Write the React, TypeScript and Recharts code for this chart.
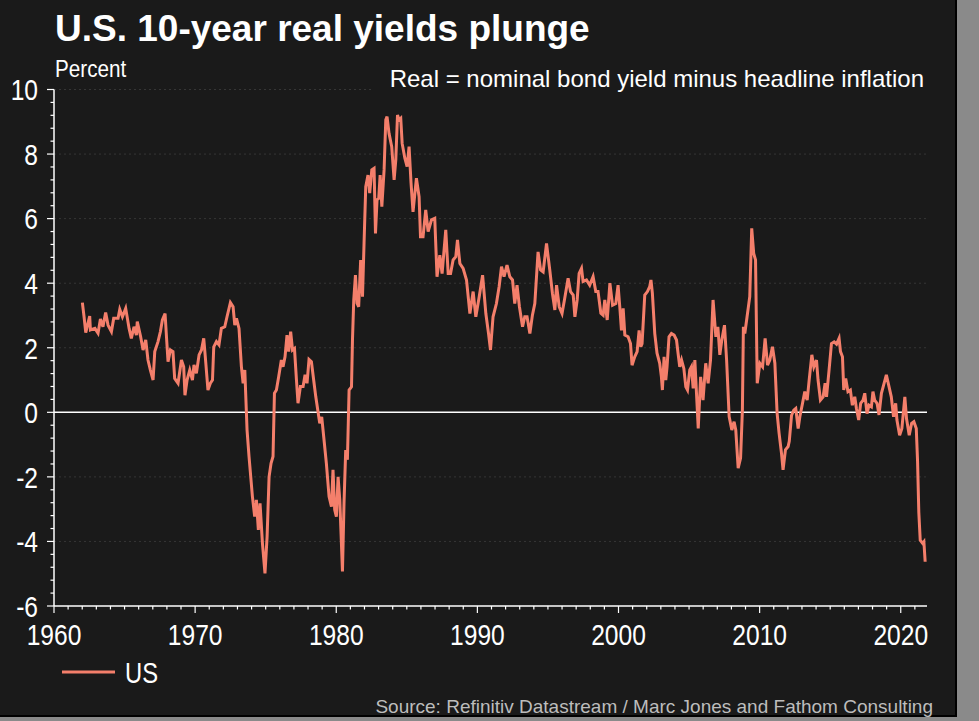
import React from 'react';
import { LineChart, Line, XAxis, YAxis, ReferenceLine } from 'recharts';

const us1960s: [number, number][] = [
  [1962.01, 3.4], [1962.13, 2.96], [1962.25, 2.47], [1962.53, 2.98], [1962.58, 2.55], [1962.9, 2.6],
  [1963.12, 2.45], [1963.29, 2.89], [1963.47, 2.65], [1963.66, 3.09], [1963.83, 2.7], [1964.07, 2.5],
  [1964.23, 2.91], [1964.54, 2.91], [1964.66, 3.19], [1964.85, 2.96], [1965.08, 3.22], [1965.32, 2.6],
  [1965.48, 2.29], [1965.67, 2.65], [1965.84, 2.39], [1965.9, 2.81], [1966.14, 2.34], [1966.31, 1.93],
  [1966.5, 2.24], [1966.66, 1.62], [1966.83, 1.31], [1967.02, 1.0], [1967.14, 1.88], [1967.37, 2.19],
  [1967.54, 2.5], [1967.68, 2.86], [1967.87, 3.06], [1967.97, 2.34], [1968.08, 1.57], [1968.25, 1.93],
  [1968.43, 1.88], [1968.55, 1.05], [1968.79, 0.9], [1969.03, 1.62], [1969.19, 1.41], [1969.28, 0.53],
  [1969.43, 1.0], [1969.62, 1.31], [1969.81, 1.0], [1969.92, 1.47],
];

const us1970s: [number, number][] = [
  [1970.09, 1.21], [1970.28, 1.78], [1970.45, 1.93], [1970.61, 2.29], [1970.73, 1.67], [1970.91, 0.69],
  [1971.08, 0.9], [1971.23, 1.0], [1971.32, 2.03], [1971.51, 2.19], [1971.69, 2.09], [1971.86, 2.6],
  [1972.1, 2.65], [1972.26, 2.96], [1972.5, 3.4], [1972.69, 3.27], [1972.81, 2.7], [1972.93, 2.91],
  [1973.11, 2.6], [1973.28, 1.41], [1973.4, 0.9], [1973.52, 1.31], [1973.68, -0.55], [1973.82, -1.37],
  [1974.06, -2.61], [1974.22, -3.23], [1974.34, -2.71], [1974.48, -3.64], [1974.6, -2.82], [1974.77, -4.06],
  [1974.95, -4.99], [1975.1, -3.85], [1975.24, -2.0], [1975.38, -1.58], [1975.52, -1.37], [1975.62, 0.59],
  [1975.76, 0.69], [1975.92, 1.1], [1976.11, 1.62], [1976.23, 1.41], [1976.37, 1.72], [1976.51, 2.39],
  [1976.63, 1.88], [1976.77, 2.5], [1976.9, 1.93], [1977.04, 1.98], [1977.18, 1.0], [1977.29, 0.28],
  [1977.46, 0.8], [1977.65, 0.8], [1977.79, 1.16], [1977.93, 0.9], [1978.07, 1.64], [1978.24, 1.57],
  [1978.4, 1.0], [1978.55, 0.48], [1978.69, 0.07], [1978.83, -0.34], [1978.97, -0.14], [1979.11, -0.75],
  [1979.3, -1.58], [1979.49, -2.61], [1979.66, -2.92], [1979.77, -1.78], [1979.89, -3.02],
];

const us1980s: [number, number][] = [
  [1980.01, -3.23], [1980.13, -2.0], [1980.25, -2.71], [1980.44, -4.93], [1980.55, -2.82], [1980.67, -1.17],
  [1980.79, -1.47], [1980.91, 0.69], [1981.08, 0.79], [1981.15, 2.24], [1981.24, 3.48], [1981.36, 4.25],
  [1981.47, 3.38], [1981.59, 3.27], [1981.73, 4.72], [1981.86, 3.58], [1981.97, 5.24], [1982.09, 6.99],
  [1982.25, 7.35], [1982.37, 6.79], [1982.52, 7.51], [1982.68, 7.56], [1982.78, 5.54], [1982.89, 6.58],
  [1983.01, 6.63], [1983.11, 7.35], [1983.23, 6.37], [1983.39, 7.51], [1983.51, 9.06], [1983.6, 9.16],
  [1983.74, 8.64], [1983.93, 8.23], [1984.1, 7.2], [1984.22, 7.82], [1984.34, 9.21], [1984.45, 9.06],
  [1984.57, 9.11], [1984.67, 8.33], [1984.86, 7.87], [1985.02, 7.61], [1985.16, 8.23], [1985.3, 7.1],
  [1985.44, 6.21], [1985.68, 7.25], [1985.87, 6.68], [1985.97, 5.44], [1986.15, 5.44], [1986.34, 6.27],
  [1986.51, 5.6], [1986.75, 5.96], [1986.98, 6.01], [1987.14, 4.2], [1987.34, 4.87], [1987.5, 4.3],
  [1987.76, 5.65], [1987.93, 4.3], [1988.1, 4.3], [1988.28, 4.72], [1988.47, 4.82], [1988.59, 5.34],
  [1988.76, 4.61], [1988.99, 4.46], [1989.23, 4.1], [1989.47, 3.06], [1989.7, 3.74], [1989.89, 2.96],
];

const us1990s: [number, number][] = [
  [1990.13, 3.58], [1990.37, 4.25], [1990.6, 3.06], [1990.79, 2.44], [1990.93, 1.93], [1991.11, 2.96],
  [1991.35, 3.37], [1991.54, 3.89], [1991.71, 4.51], [1991.89, 4.2], [1992.1, 4.56], [1992.3, 4.2],
  [1992.49, 4.1], [1992.65, 3.37], [1992.81, 3.94], [1992.98, 3.27], [1993.2, 2.65], [1993.36, 2.96],
  [1993.52, 2.96], [1993.72, 2.44], [1993.9, 3.01], [1994.07, 3.37], [1994.3, 4.97], [1994.48, 4.41],
  [1994.66, 4.35], [1994.9, 5.23], [1995.13, 4.41], [1995.32, 3.68], [1995.49, 3.17], [1995.61, 3.94],
  [1995.8, 3.27], [1996.0, 3.06], [1996.19, 3.53], [1996.43, 4.15], [1996.6, 3.74], [1996.79, 3.63],
  [1996.91, 2.96], [1997.07, 3.48], [1997.21, 4.3], [1997.38, 4.46], [1997.49, 4.05], [1997.73, 4.1],
  [1997.96, 3.94], [1998.2, 4.2], [1998.39, 3.74], [1998.55, 3.74], [1998.75, 3.07], [1998.91, 3.01],
  [1999.03, 3.48], [1999.2, 2.86], [1999.39, 4.0], [1999.58, 3.32], [1999.81, 3.37], [1999.97, 3.94],
];

const us2000s: [number, number][] = [
  [2000.09, 3.27], [2000.21, 2.54], [2000.33, 3.22], [2000.45, 2.39], [2000.68, 2.34], [2000.85, 2.13],
  [2000.96, 1.46], [2001.15, 1.72], [2001.32, 1.88], [2001.46, 2.54], [2001.58, 2.03], [2001.67, 2.13],
  [2001.86, 3.63], [2002.05, 3.74], [2002.21, 3.89], [2002.3, 4.1], [2002.4, 3.69], [2002.57, 2.44],
  [2002.73, 1.83], [2002.92, 1.52], [2003.04, 1.1], [2003.11, 0.69], [2003.23, 1.72], [2003.35, 1.0],
  [2003.44, 1.41], [2003.58, 2.34], [2003.75, 2.44], [2003.94, 2.39], [2004.11, 2.24], [2004.22, 1.83],
  [2004.34, 1.41], [2004.47, 1.62], [2004.63, 1.36], [2004.77, 0.79], [2004.89, 0.69], [2005.05, 1.31],
  [2005.17, 1.41], [2005.29, 0.74], [2005.41, 1.62], [2005.65, -0.5], [2005.82, 1.1], [2005.99, 0.38],
  [2006.18, 1.52], [2006.35, 0.9], [2006.52, 1.62], [2006.7, 3.48], [2006.9, 2.34], [2007.04, 2.65],
  [2007.18, 1.78], [2007.32, 2.24], [2007.51, 2.7], [2007.66, 1.62], [2007.84, -0.13], [2008.03, -0.55],
  [2008.19, -0.29], [2008.31, -0.55], [2008.48, -1.73], [2008.65, -1.42], [2008.78, 0.07], [2008.85, 2.65],
  [2008.95, 2.44], [2009.11, 2.96], [2009.3, 3.58], [2009.44, 5.7], [2009.58, 4.92], [2009.71, 4.72],
  [2009.83, 0.9],
];

const us2010s: [number, number][] = [
  [2010.02, 1.52], [2010.21, 1.41], [2010.39, 2.29], [2010.56, 1.46], [2010.72, 1.62], [2010.91, 2.03],
  [2011.08, 1.52], [2011.24, -0.03], [2011.38, -0.65], [2011.55, -1.27], [2011.66, -1.78], [2011.83, -1.16],
  [2012.02, -1.06], [2012.1, -0.9], [2012.26, -0.1], [2012.42, 0.07], [2012.56, 0.12], [2012.73, -0.5],
  [2012.85, -0.14], [2013.04, 0.28], [2013.2, 0.64], [2013.37, 0.38], [2013.51, 1.0], [2013.7, 1.78],
  [2013.84, 1.41], [2014.03, 1.62], [2014.14, 1.0], [2014.31, 0.38], [2014.5, 0.48], [2014.64, 0.9],
  [2014.74, 0.48], [2014.92, 1.31], [2015.09, 2.13], [2015.28, 2.18], [2015.45, 2.11], [2015.63, 2.29],
  [2015.73, 1.88], [2015.87, 1.72], [2015.96, 0.69], [2016.1, 1.05], [2016.26, 0.64], [2016.43, 0.69],
  [2016.57, 0.22], [2016.74, 0.48], [2016.86, 0.12], [2017.02, -0.24], [2017.16, 0.28], [2017.33, 0.38],
  [2017.45, 0.59], [2017.61, -0.04], [2017.75, 0.22], [2017.92, 0.17], [2018.03, 0.64], [2018.15, 0.38],
  [2018.32, 0.28], [2018.46, -0.08], [2018.63, 0.59], [2018.79, 0.85], [2018.98, 1.16], [2019.14, 0.85],
  [2019.33, 0.48], [2019.49, -0.14], [2019.64, 0.28], [2019.73, -0.24], [2019.92, -0.71],
];

const us2020s: [number, number][] = [
  [2020.08, -0.5], [2020.29, 0.48], [2020.41, -0.2], [2020.6, -0.71], [2020.77, -0.34], [2020.93, -0.29],
  [2021.1, -0.5], [2021.19, -1.5], [2021.28, -3.1], [2021.38, -3.96], [2021.55, -4.06], [2021.64, -4.01],
  [2021.73, -4.63],
];

const xTicks = Array.from({ length: 62 }, (_, i) => 1960 + i);
const yTicks = Array.from({ length: 41 }, (_, i) => Math.round((-6 + i * 0.4) * 10) / 10);
const gridValues = [-4, -2, 2, 4, 6, 8];

const data = [...us1960s, ...us1970s, ...us1980s, ...us1990s, ...us2000s, ...us2010s, ...us2020s].map(
  ([year, value]) => ({ year, value })
);

const FONT = "'Liberation Sans', Arial, Helvetica, sans-serif";
const BG = '#1a1a1a';
const LINE = '#f47f6b';
const NARROW = 0.82;

const XTick = (props: any) => {
  const { x, y, payload } = props;
  const major = payload.value % 10 === 0;
  return (
    <g>
      <line x1={x} x2={x} y1={y} y2={y + (major ? 7 : 3.5)} stroke="#fff" strokeWidth={1.2} />
      {major && (
        <text
          transform={`translate(${x},${y + 39}) scale(${NARROW},1)`}
          textAnchor="middle"
          fill="#fff"
          fontSize={30}
          fontFamily={FONT}
        >
          {payload.value}
        </text>
      )}
    </g>
  );
};

const YTick = (props: any) => {
  const { x, y, payload } = props;
  const v = payload.value;
  const major = Math.abs(v / 2 - Math.round(v / 2)) < 1e-6;
  return (
    <g>
      <line x1={x - (major ? 7 : 3.5)} x2={x} y1={y} y2={y} stroke="#fff" strokeWidth={1.2} />
      {major && (
        <text
          transform={`translate(${x - 16},${y}) scale(${NARROW},1)`}
          dy="0.36em"
          textAnchor="end"
          fill="#fff"
          fontSize={30}
          fontFamily={FONT}
        >
          {v}
        </text>
      )}
    </g>
  );
};

export default function App() {
  return (
    <div style={{ position: 'fixed', left: 0, top: 0, width: 979, height: 721, background: '#8a8a8a' }}>
      <div
        style={{
          position: 'absolute',
          left: 0,
          top: 0,
          width: 955,
          height: 715,
          background: BG,
          borderRight: '2px solid #000',
          borderBottom: '2px solid #000',
        }}
      >
        <LineChart
          width={956}
          height={716}
          data={data}
          margin={{ top: 89.5, right: 29, bottom: 70, left: 0 }}
        >
          {gridValues.map((v) => (
            <ReferenceLine key={v} y={v} stroke="#363636" strokeDasharray="2 3" />
          ))}
          <ReferenceLine
            segment={[{ x: 1960, y: 10 }, { x: 1982.6, y: 10 }]}
            stroke="#363636"
            strokeDasharray="2 3"
          />
          <ReferenceLine y={0} stroke="#fff" strokeWidth={1.5} />
          <XAxis
            dataKey="year"
            type="number"
            domain={[1960, 2021.86]}
            ticks={xTicks}
            interval={0}
            height={40}
            axisLine={{ stroke: '#fff', strokeWidth: 1.5 }}
            tickLine={false}
            tickSize={0}
            tickMargin={0}
            tick={<XTick />}
            allowDataOverflow
          />
          <YAxis
            type="number"
            domain={[-6, 10]}
            ticks={yTicks}
            interval={0}
            width={54}
            axisLine={{ stroke: '#fff', strokeWidth: 1.5 }}
            tickLine={false}
            tickSize={0}
            tickMargin={0}
            tick={<YTick />}
            allowDataOverflow
          />
          <Line
            type="linear"
            dataKey="value"
            name="US"
            stroke={LINE}
            strokeWidth={3}
            dot={false}
            isAnimationActive={false}
          />
        </LineChart>
      </div>
      <svg
        width={979}
        height={721}
        style={{ position: 'absolute', left: 0, top: 0, pointerEvents: 'none' }}
        fontFamily={FONT}
      >
        <text x={55} y={41} fill="#fff" fontSize={37} fontWeight="bold">
          U.S. 10-year real yields plunge
        </text>
        <text transform="translate(55,77) scale(0.88,1)" fill="#fff" fontSize={23.5}>
          Percent
        </text>
        <text x={924} y={87} fill="#fff" fontSize={24} textAnchor="end">
          Real = nominal bond yield minus headline inflation
        </text>
        <line x1={62} x2={115} y1={672} y2={672} stroke={LINE} strokeWidth={3} />
        <text transform={`translate(125,683) scale(${NARROW},1)`} fill="#fff" fontSize={29}>
          US
        </text>
        <text x={933} y={713} fill="#bdbdbd" fontSize={19} textAnchor="end">
          Source: Refinitiv Datastream / Marc Jones and Fathom Consulting
        </text>
      </svg>
    </div>
  );
}
